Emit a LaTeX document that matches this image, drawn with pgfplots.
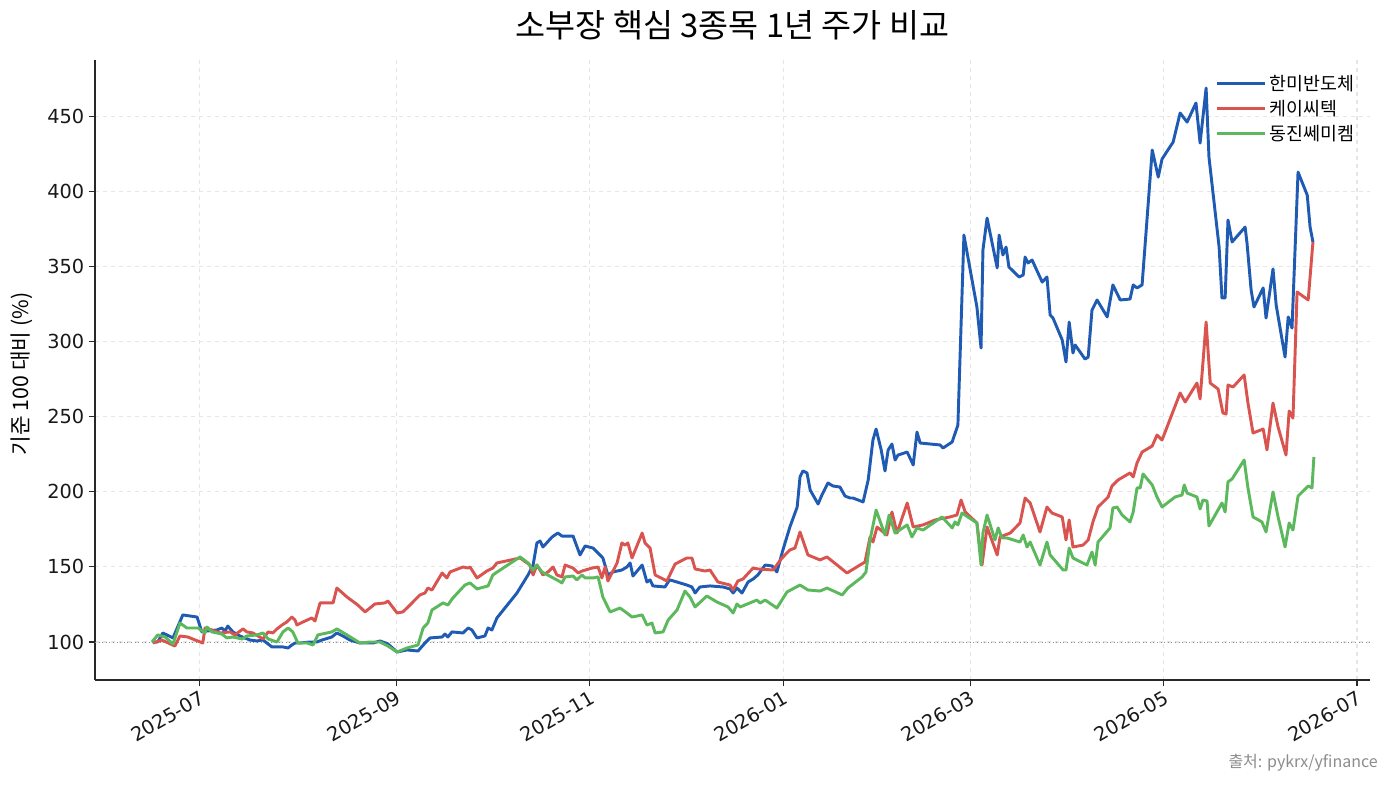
\documentclass[border=0pt]{standalone}
\usepackage{fontspec}
\setmainfont{Noto Sans CJK KR}
\newfontfamily\tickfont{DejaVu Sans}
\usepackage{pgfplots}
\pgfplotsset{compat=1.18}
\definecolor{cblue}{RGB}{31,91,178}
\definecolor{cred}{RGB}{217,83,79}
\definecolor{cgreen}{RGB}{92,184,92}
\definecolor{spine}{RGB}{40,40,40}
\begin{document}
\begin{tikzpicture}
\path[use as bounding box] (0,0) rectangle (1044.75pt,589.5pt);
\begin{axis}[
  at={(71.25pt,79.5pt)}, anchor=south west,
  scale only axis, width=956.25pt, height=465pt,
  xmin=-33.1, xmax=369.1, ymin=74.7, ymax=487.3,
  axis lines=left, axis line style={-, draw=spine, line width=0.9pt},
  xtick={0,62,123,184,243,304,365},
  xticklabels={2025-07,2025-09,2025-11,2026-01,2026-03,2026-05,2026-07},
  ytick={100,150,200,250,300,350,400,450},
  tick align=outside, major tick length=4.5pt,
  tick style={draw=spine, line width=0.8pt},
  /pgf/number format/assume math mode=true,
  ticklabel style={font=\tickfont\fontsize{14.5}{16}\selectfont, text=black!90},
  xticklabel style={rotate=30, anchor=north east, inner sep=2pt},
  grid=major,
  major grid style={dashed, draw=black!10, line width=0.8pt},
  legend cell align=left,
  legend style={draw=none, fill=none, at={(0.993,0.985)}, anchor=north east,
    font=\fontsize{13.8}{15}\selectfont, row sep=2pt},
  legend image code/.code={\draw[#1] (0pt,0pt) -- (28pt,0pt); \path (0pt,0pt) -- (36pt,0pt);},
]
\addplot[forget plot, draw=black!45, line width=0.7pt, dotted] coordinates {(-33.1,100) (369.1,100)};
% 한미반도체
\addplot[cblue, line width=2.2pt, line join=round] coordinates {
(-15,100) (-13.3,100) (-11.7,106) (-8.5,102.7) (-5.4,118) (-0.9,116.6) (0.6,106.7) (2.2,107.3) (5.4,108) (6.9,109.3) (7.9,107.3) (8.8,110.6) (10.4,106.7) (12.6,104) (15.8,101.3) (18.0,100.7) (19.9,101.3) (22.7,96.7) (26.2,96.7) (27.8,96) (29.0,98) (30.0,99.3) (31.5,99.3) (34.7,100) (36.9,100) (38.5,101.3) (41.6,103.3) (43.2,106) (45.1,104) (47.3,101.3) (50.5,99.3) (54.6,99.3) (56.8,100.7) (59.3,98.7) (62.2,93.3) (65.3,94.7) (68.8,94) (71.0,99.3) (72.6,102.7) (76.4,103.3) (77.3,105.3) (78.2,103.3) (79.5,106.7) (83.0,106) (84.6,109.3) (85.8,108) (87.4,102.7) (89.9,104) (90.9,109.3) (92.1,108) (93.7,116) (100.0,132.6) (103.5,144.6) (105.1,151.2) (106.3,165.9) (107.3,167.2) (108.2,163.2) (111.1,169.9) (112.9,172.5) (114.2,170.5) (117.7,170.5) (119.9,157.9) (121.5,163.9) (124.0,162.5) (126.2,157.9) (127.1,155.9) (128.7,144.6) (130.3,146.6) (133.1,147.9) (134.7,149.9) (135.7,152.6) (136.6,143.9) (139.5,151.2) (141.0,139.9) (142.0,141.3) (142.9,137.3) (146.7,136.6) (147.7,139.9) (148.3,141.3) (153.6,137.9) (155.2,136.6) (156.2,132.6) (157.7,136.6) (160.9,137.3) (165.0,136.6) (167.2,135.3) (168.2,132.6) (169.4,135.9) (171.0,132.6) (172.9,139.9) (174.5,141.9) (176.0,144.6) (178.3,151.2) (180.5,150.6) (182.0,146.6) (183.9,161.2) (186.1,176.5) (188.4,189.8) (189.3,209.8) (190.2,213.8) (191.5,212.5) (192.5,201.1) (195.0,191.8) (196.2,197.8) (198.1,205.8) (199.7,203.8) (201.9,203.1) (203.5,197.1) (205.1,195.8) (206.0,195.8) (209.2,193.2) (210.8,207.8) (212.3,234.4) (213.3,241.7) (214.9,227.8) (216.1,213.8) (217.1,227.8) (218.3,231.7) (219.3,221.1) (220.2,224.4) (223.1,226.4) (225.0,217.8) (226.2,239.7) (227.2,232.4) (233.5,231.1) (234.4,229.1) (237.3,233.1) (239.1,244.4) (241.0,370.8) (245.1,322.9) (246.4,295.6) (247.0,360.8) (248.3,382.1) (251.5,348.9) (252.1,370.8) (253.3,357.5) (254.3,362.8) (255.2,349.5) (258.4,342.9) (259.7,344.2) (260.3,356.2) (261.2,352.2) (262.5,354.2) (265.7,339.5) (267.2,342.9) (268.2,317.6) (269.1,315.6) (272.0,301.0) (273.2,286.3) (274.2,312.9) (275.4,292.3) (276.1,297.6) (279.2,288.3) (280.2,289.6) (281.4,320.9) (283.0,327.6) (286.2,316.3) (288.0,337.6) (290.3,327.6) (293.4,328.2) (294.4,337.6) (295.6,335.6) (297.2,337.6) (298.1,362.8) (300.4,427.4) (302.3,409.4) (303.5,421.4) (307.0,432.7) (309.2,452.0) (311.4,446.0) (314.2,458.7) (315.5,432.0) (317.4,468.6) (318.3,422.7) (321.5,362.8) (322.4,328.9) (323.4,328.9) (324.3,380.8) (325.6,366.2) (329.7,376.1) (330.3,365.5) (331.6,334.2) (332.5,322.9) (335.4,335.6) (336.3,315.6) (338.5,348.2) (339.5,324.2) (342.3,289.6) (343.3,316.3) (344.5,308.9) (346.4,412.7) (349.3,397.4) (350.2,376.1) (351.1,366.2)
};
\addlegendentry{한미반도체}
% 케이씨텍
\addplot[cred, line width=2.2pt, line join=round] coordinates {
(-14.8,99.3) (-12.0,101.3) (-7.9,97.3) (-6.3,104) (-3.8,103.3) (0.9,99.3) (1.6,109.3) (3.8,108) (6.3,106) (9.5,106.7) (11.0,104.7) (13.6,108.7) (14.8,106.7) (16.7,106) (19.9,102) (21.5,106.7) (23.0,106) (24.3,108.7) (25.9,111.3) (27.4,113.3) (29.0,116.6) (30.0,114.6) (30.6,111.3) (32.5,113.3) (35.3,116) (36.3,114) (37.9,126) (40.4,126) (42.0,126) (43.2,135.9) (46.4,129.9) (49.8,124.6) (52.1,120) (55.2,125.3) (58.4,126) (59.3,127.3) (62.2,119.3) (64.0,120) (65.3,122.6) (67.8,127.9) (69.4,131.3) (71.0,132.6) (71.9,135.9) (73.2,134.6) (76.4,145.9) (77.9,142.6) (78.9,146.6) (83.0,149.9) (84.6,149.2) (85.2,149.9) (87.4,142.6) (90.5,147.2) (92.4,149.2) (93.7,152.6) (101.0,155.9) (104.1,151.2) (105.1,144.6) (106.3,151.2) (108.2,144.6) (109.8,146.6) (111.4,149.9) (112.6,144.6) (114.2,143.3) (115.2,151.2) (117.7,149.2) (119.3,145.9) (120.5,147.2) (123.7,149.2) (125.6,149.9) (126.8,142.6) (127.8,149.9) (128.7,140.6) (131.6,152.6) (133.1,165.9) (134.1,164.5) (135.0,165.9) (136.3,155.9) (139.5,172.5) (140.4,165.9) (142.0,162.5) (143.6,144.6) (147.3,140.6) (149.9,151.9) (153.6,155.9) (155.2,155.9) (156.2,148.6) (159.3,147.2) (160.9,147.9) (163.4,139.9) (167.2,137.9) (168.2,134.6) (169.7,140.6) (171.3,141.9) (174.5,149.2) (176.0,148.6) (180.8,147.9) (183.6,155.9) (186.1,161.2) (187.7,162.5) (189.3,173.2) (191.8,157.9) (195.6,154.6) (197.8,156.6) (201.0,151.2) (204.1,145.9) (208.2,151.2) (209.8,153.2) (211.4,169.9) (212.3,166.5) (213.6,176.5) (216.7,171.2) (218.3,186.5) (219.9,172.5) (223.1,192.5) (225.0,176.5) (228.1,177.9) (231.9,181.2) (236.6,183.2) (238.8,184.5) (240.1,194.5) (241.4,186.5) (245.1,179.2) (246.7,151.2) (248.3,176.5) (251.5,157.9) (252.4,169.9) (255.6,172.5) (258.7,179.2) (260.3,195.8) (261.9,192.5) (265.0,173.2) (267.2,189.8) (268.8,185.8) (272.0,183.2) (273.2,167.9) (274.2,181.2) (275.4,163.2) (278.6,164.5) (280.2,167.9) (281.7,179.9) (283.3,189.8) (286.5,196.5) (287.7,203.8) (289.6,207.8) (293.4,212.5) (294.4,209.8) (295.6,219.1) (297.2,226.4) (300.4,230.4) (301.9,237.7) (303.5,234.4) (309.2,265.7) (310.8,259.7) (314.5,272.3) (315.5,261.7) (317.4,312.9) (318.7,272.3) (321.2,268.3) (322.7,252.4) (323.7,251.7) (324.3,271.0) (325.9,269.7) (329.4,277.7) (330.6,259.0) (332.2,239.1) (335.4,241.7) (336.6,227.8) (338.5,259.0) (340.1,243.1) (342.6,224.4) (343.6,253.7) (344.8,249.0) (346.1,332.9) (349.6,327.6) (351.1,366.2)
};
\addlegendentry{케이씨텍}
% 동진쎄미켐
\addplot[cgreen, line width=2.2pt, line join=round] coordinates {
(-15.1,100) (-13.3,104.7) (-11.0,103.3) (-8.5,98.7) (-6.3,112.6) (-4.1,109.3) (-0.6,109.3) (1.6,106) (2.2,110) (3.8,106.7) (6.9,105.3) (8.5,102.7) (10.4,103.3) (13.3,102) (14.8,104) (18.0,104.7) (19.9,106) (21.5,102) (24.3,100) (26.2,106.7) (27.8,109.3) (29.3,106.7) (30.9,99.3) (33.8,99.3) (35.7,98) (37.2,104.7) (41.6,106.7) (43.2,108.7) (46.4,104.7) (50.5,99.3) (53.6,100) (56.8,100) (59.3,97.3) (62.2,93.3) (65.3,96) (68.8,98) (70.4,109.3) (71.9,112.6) (73.2,121.3) (76.7,126) (78.2,124.6) (79.8,129.3) (83.6,137.9) (85.2,139.3) (87.4,135.3) (90.9,137.3) (92.4,144.6) (94.7,147.9) (101.0,156.6) (103.5,152.6) (105.1,147.9) (106.3,151.2) (107.9,146.6) (112.6,141.3) (114.2,139.3) (115.2,143.3) (117.7,143.9) (118.9,141.3) (120.5,144.6) (121.5,142.6) (124.0,142.6) (125.6,143.3) (127.1,129.9) (129.4,120) (132.5,122.6) (134.7,119.3) (136.3,116.6) (139.5,118) (141.0,111.3) (142.6,112.6) (143.6,106) (146.1,106.7) (147.7,114.6) (150.5,121.3) (153.0,133.9) (154.6,129.9) (156.2,123.3) (159.9,130.6) (163.1,126.6) (166.6,123.3) (168.2,119.3) (169.4,125.3) (170.4,123.3) (175.7,127.9) (176.7,125.9) (178.3,127.9) (182.0,122.6) (185.2,133.3) (189.3,137.9) (191.8,134.6) (195.6,133.9) (197.8,135.9) (202.6,131.3) (204.4,135.9) (208.9,143.3) (210.1,146.6) (211.4,167.9) (213.3,187.8) (216.1,171.2) (217.4,184.5) (219.3,172.5) (223.1,177.9) (224.6,169.9) (226.2,175.9) (228.1,174.5) (234.1,183.2) (237.3,175.9) (238.2,179.9) (239.1,177.9) (240.4,185.8) (245.1,179.2) (246.4,151.2) (247.0,172.5) (248.3,184.5) (250.8,167.9) (251.8,175.9) (253.0,169.2) (254.6,169.2) (258.7,166.5) (259.7,171.2) (260.9,163.2) (261.9,166.5) (265.0,151.2) (267.2,166.5) (268.2,157.9) (272.3,147.9) (273.2,147.9) (274.2,162.5) (275.4,155.9) (279.8,151.2) (281.4,159.9) (282.4,151.2) (283.3,166.5) (287.1,175.9) (288.0,189.2) (289.3,189.8) (290.9,184.5) (293.4,179.9) (294.4,186.5) (295.6,202.5) (296.6,202.5) (297.5,211.8) (300.4,204.5) (301.9,196.5) (303.5,189.8) (307.6,196.5) (309.8,197.8) (310.5,204.5) (311.4,199.1) (314.5,196.5) (315.5,188.5) (316.4,194.5) (317.7,193.8) (318.3,177.2) (322.4,192.5) (323.4,186.5) (324.3,206.5) (325.6,208.5) (329.4,221.1) (330.6,202.5) (332.2,183.2) (335.0,179.9) (336.3,173.2) (338.5,199.8) (340.1,183.2) (342.3,163.2) (343.6,179.2) (344.8,174.5) (346.4,197.1) (349.6,203.8) (350.8,202.5) (351.4,223.1)
};
\addlegendentry{동진쎄미켐}
\end{axis}
\node[font=\fontsize{24.5}{28}\selectfont] at (549.4pt,570.75pt) {소부장 핵심 3종목 1년 주가 비교};
\node[rotate=90, font=\fontsize{16}{18}\selectfont] at (16.5pt,309pt) {기준 100 대비 (\%)};
\node[anchor=east, text=black!45, font=\fontsize{12}{14}\selectfont, inner sep=0pt] at (1033.5pt,17.25pt) {출처: pykrx/yfinance};
\end{tikzpicture}
\end{document}
